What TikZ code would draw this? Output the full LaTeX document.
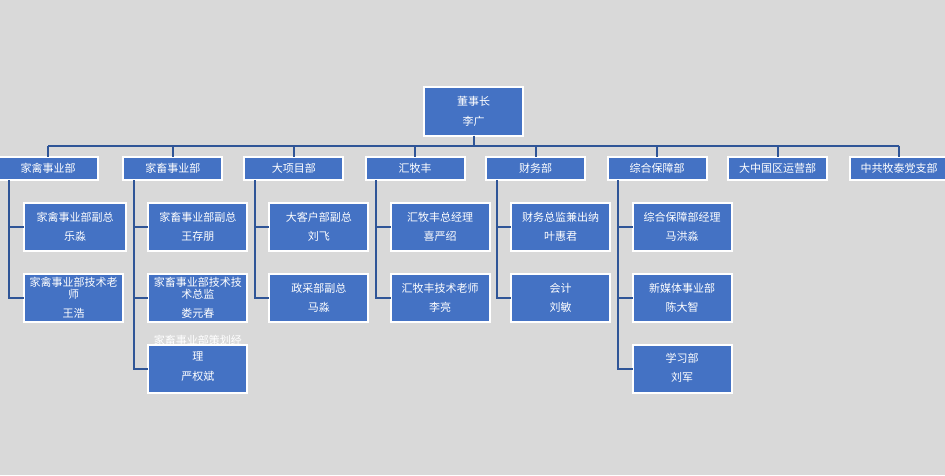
\documentclass[tikz,border=0pt]{standalone}
\usepackage{fontspec}
\setmainfont{Noto Sans CJK SC}
\usetikzlibrary{calc}
\definecolor{bgc}{HTML}{D9D9D9}
\definecolor{boxc}{HTML}{4472C4}
\definecolor{linec}{RGB}{47,85,151}
\tikzset{
  orgbox/.style={draw=white, line width=2pt, fill=boxc, inner sep=0pt, outer sep=0pt, minimum width=99pt},
  topbox/.style={orgbox, minimum height=49pt},
  deptbox/.style={orgbox, minimum height=23pt},
  subbox/.style={orgbox, minimum height=48pt},
  txt/.style={text=white, inner sep=0pt, font=\fontsize{11}{12}\selectfont},
  conn/.style={draw=linec, line width=2pt}
}
\begin{document}
\begin{tikzpicture}[x=1pt,y=-1pt]
\useasboundingbox (0,0) rectangle (945,475);
\clip (0,0) rectangle (945,475);
\fill[bgc] (0,0) rectangle (945,475);

% top
\node[topbox] (top) at (473.5,111) {};
\node[txt] (topt1) at (473.5,101) {董事长};
\node[txt] (topt2) at (473.5,121) {李广};

% departments
\foreach \n/\x/\t in {d1/48/家禽事业部, d2/172.8/家畜事业部, d3/293.8/大项目部, d4/415/汇牧丰, d5/535.7/财务部, d6/657/综合保障部, d7/777.7/大中国区运营部, d8/899/中共牧泰党支部}{
  \node[deptbox] (\n) at (\x,168.5) {};
  \node[txt] (\n t) at (\x,168.5) {\t};
}

% bus
\coordinate (bus) at (473.5,145.7);
\draw[conn] (top.south) -- (top.south |- bus);
\draw[conn] (d1.north |- bus) -- (d8.north |- bus);
\foreach \n in {d1,d2,d3,d4,d5,d6,d7,d8}{
  \draw[conn] (\n.north |- bus) -- (\n.north);
}

% sub boxes
% column 1
\node[subbox, minimum width=102pt] (s11) at (75,227) {};
\node[txt] (s11a) at (75,217) {家禽事业部副总};
\node[txt] (s11b) at (75,236) {乐淼};
\node[subbox] (s12) at (73.5,298) {};
\node[txt] (s12a) at (73.5,282.3) {家禽事业部技术老};
\node[txt] (s12b) at (73.5,294.3) {师};
\node[txt] (s12c) at (73.5,313.3) {王浩};

% column 2
\node[subbox] (s21) at (197.8,227) {};
\node[txt] (s21a) at (197.8,217) {家畜事业部副总};
\node[txt] (s21b) at (197.8,236) {王存朋};
\node[subbox] (s22) at (197.8,298) {};
\node[txt] (s22a) at (197.8,282.3) {家畜事业部技术技};
\node[txt] (s22b) at (197.8,294.3) {术总监};
\node[txt] (s22c) at (197.8,313.3) {娄元春};
\node[subbox] (s23) at (197.8,368.5) {};
\node[txt] (s23a) at (197.8,340.7) {家畜事业部策划经};
\node[txt] (s23b) at (197.8,356) {理};
\node[txt] (s23c) at (197.8,376) {严权斌};

% column 3
\node[subbox] (s31) at (318.8,227) {};
\node[txt] (s31a) at (318.8,217) {大客户部副总};
\node[txt] (s31b) at (318.8,236) {刘飞};
\node[subbox] (s32) at (318.8,298) {};
\node[txt] (s32a) at (318.8,288) {政采部副总};
\node[txt] (s32b) at (318.8,307) {马淼};

% column 4
\node[subbox] (s41) at (440,227) {};
\node[txt] (s41a) at (440,217) {汇牧丰总经理};
\node[txt] (s41b) at (440,236) {喜严绍};
\node[subbox] (s42) at (440,298) {};
\node[txt] (s42a) at (440,288) {汇牧丰技术老师};
\node[txt] (s42b) at (440,307) {李亮};

% column 5
\node[subbox] (s51) at (560.7,227) {};
\node[txt] (s51a) at (560.7,217) {财务总监兼出纳};
\node[txt] (s51b) at (560.7,236) {叶惠君};
\node[subbox] (s52) at (560.7,298) {};
\node[txt] (s52a) at (560.7,288) {会计};
\node[txt] (s52b) at (560.7,307) {刘敏};

% column 6
\node[subbox] (s61) at (682,227) {};
\node[txt] (s61a) at (682,217) {综合保障部经理};
\node[txt] (s61b) at (682,236) {马洪淼};
\node[subbox] (s62) at (682,298) {};
\node[txt] (s62a) at (682,288) {新媒体事业部};
\node[txt] (s62b) at (682,307) {陈大智};
\node[subbox] (s63) at (682,368.5) {};
\node[txt] (s63a) at (682,358.5) {学习部};
\node[txt] (s63b) at (682,377.5) {刘军};

% column connectors
\coordinate (v1) at ($(d1.south)+(-39,0)$);
\coordinate (v2) at ($(d2.south)+(-39,0)$);
\coordinate (v3) at ($(d3.south)+(-39,0)$);
\coordinate (v4) at ($(d4.south)+(-39,0)$);
\coordinate (v5) at ($(d5.south)+(-39,0)$);
\coordinate (v6) at ($(d6.south)+(-39,0)$);
\draw[conn] (v1) |- (s12.west) (v1) |- (s11.west);
\draw[conn] (v2) |- (s23.west) (v2) |- (s22.west) (v2) |- (s21.west);
\draw[conn] (v3) |- (s32.west) (v3) |- (s31.west);
\draw[conn] (v4) |- (s42.west) (v4) |- (s41.west);
\draw[conn] (v5) |- (s52.west) (v5) |- (s51.west);
\draw[conn] (v6) |- (s63.west) (v6) |- (s62.west) (v6) |- (s61.west);
\end{tikzpicture}
\end{document}
